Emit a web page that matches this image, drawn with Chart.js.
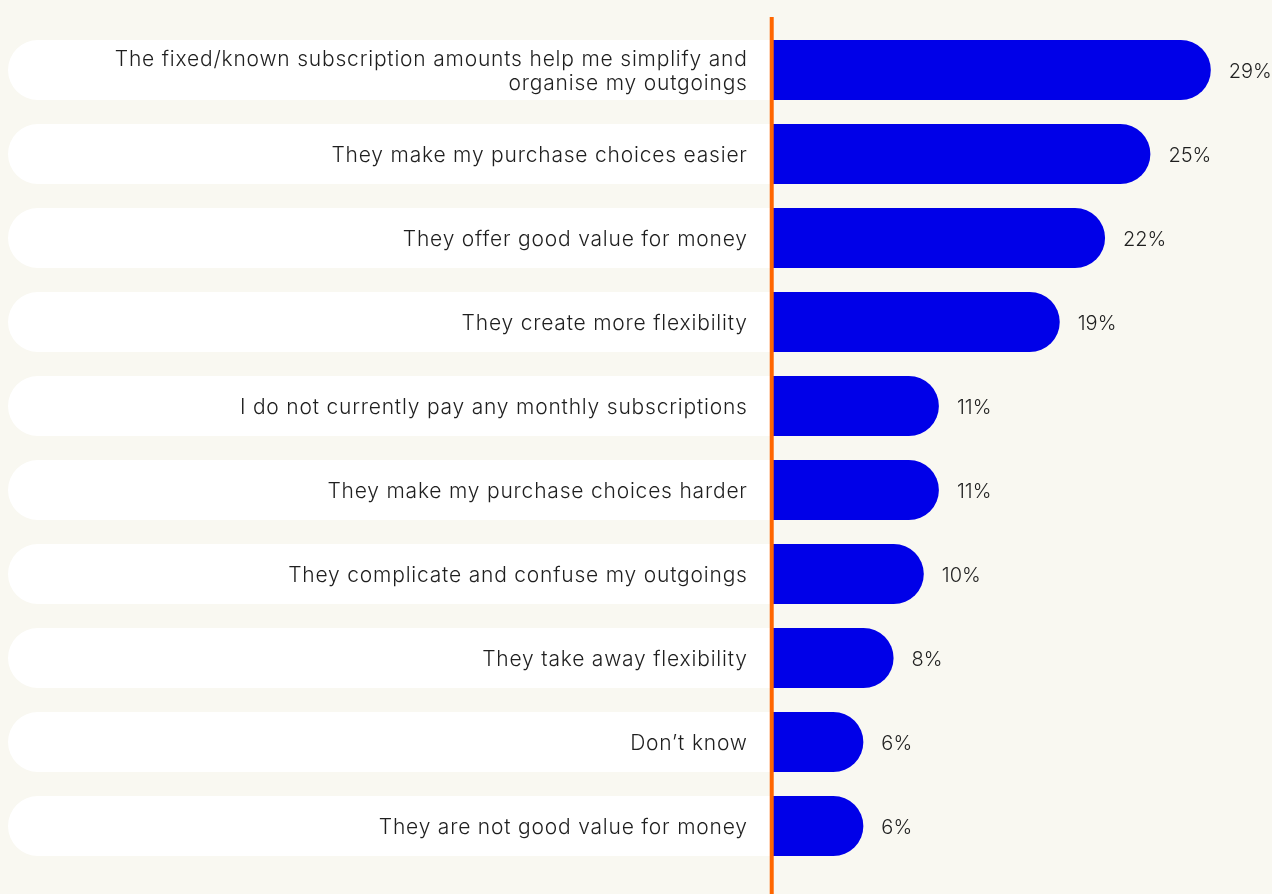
<!DOCTYPE html>
<html>
<head>
<meta charset="utf-8">
<script src="https://cdn.jsdelivr.net/npm/chart.js@4"></script>
<style>
  html, body { margin: 0; padding: 0; background: #f9f8f1; }
  #wrap { width: 1272px; height: 894px; position: relative; }
</style>
</head>
<body>
<div id="wrap"><canvas id="chart"></canvas></div>
<script>
// Survey answers (single-line entries are plain strings, wrapped ones are arrays)
const categories = [
  ["The fixed/known subscription amounts help me simplify and", "organise my outgoings"],
  "They make my purchase choices easier",
  "They offer good value for money",
  "They create more flexibility",
  "I do not currently pay any monthly subscriptions",
  "They make my purchase choices harder",
  "They complicate and confuse my outgoings",
  "They take away flexibility",
  "Don\u2019t know",
  "They are not good value for money"
];
const shares = [29, 25, 22, 19, 11, 11, 10, 8, 6, 6];
const valueLabels = ["29%", "25%", "22%", "19%", "11%", "11%", "10%", "8%", "6%", "6%"];

// Label track runs from this value up to zero, behind the category text
const trackStart = -50.62;
const axisMin = -51.15;
const axisMax = 33.05;

const BG = '#f9f8f1';
const BLUE = '#0000e8';
const ORANGE = '#ff6600';
const TEXT = '#1f1f1f';
const FONT = 'Inter, "Open Sans", sans-serif';

const labelsPlugin = {
  id: 'labels',
  afterDatasetsDraw(chart) {
    const { ctx, scales: { x, y } } = chart;
    const zeroX = x.getPixelForValue(0);
    ctx.save();
    // orange divider at zero
    ctx.fillStyle = ORANGE;
    ctx.fillRect(zeroX - 3, 17, 4, chart.height - 17);

    ctx.fillStyle = TEXT;
    ctx.textBaseline = 'middle';
    categories.forEach((cat, i) => {
      const cy = y.getPixelForValue(i);
      const lines = Array.isArray(cat) ? cat : [cat];
      const lh = 24;
      const top = cy + 2 - (lines.length - 1) * lh / 2;
      ctx.font = '300 21px ' + FONT;
      ctx.letterSpacing = '0.8px';
      ctx.textAlign = 'right';
      lines.forEach((ln, k) => ctx.fillText(ln, zeroX - 25, top + k * lh));
      ctx.font = '300 20px ' + FONT;
      ctx.letterSpacing = '0px';
      ctx.textAlign = 'left';
      ctx.fillText(valueLabels[i], x.getPixelForValue(shares[i]) + 18, cy + 2);
    });
    ctx.restore();
  }
};

new Chart(document.getElementById('chart'), {
  type: 'bar',
  data: {
    labels: categories,
    datasets: [
      {
        data: categories.map(() => [trackStart, 0]),
        backgroundColor: '#ffffff',
        borderSkipped: false,
        borderRadius: { topLeft: 30, bottomLeft: 30, topRight: 0, bottomRight: 0 },
        grouped: false,
        categoryPercentage: 1,
        barPercentage: 0.715
      },
      {
        data: shares,
        backgroundColor: BLUE,
        borderSkipped: false,
        borderRadius: { topLeft: 0, bottomLeft: 0, topRight: 30, bottomRight: 30 },
        grouped: false,
        categoryPercentage: 1,
        barPercentage: 0.715
      }
    ]
  },
  options: {
    indexAxis: 'y',
    responsive: true,
    maintainAspectRatio: false,
    animation: false,
    layout: { padding: { top: 28, bottom: 26, left: 0, right: 0 } },
    plugins: { legend: { display: false }, tooltip: { enabled: false } },
    scales: {
      x: { display: false, min: axisMin, max: axisMax },
      y: { display: false }
    }
  },
  plugins: [labelsPlugin]
});
</script>
</body>
</html>
